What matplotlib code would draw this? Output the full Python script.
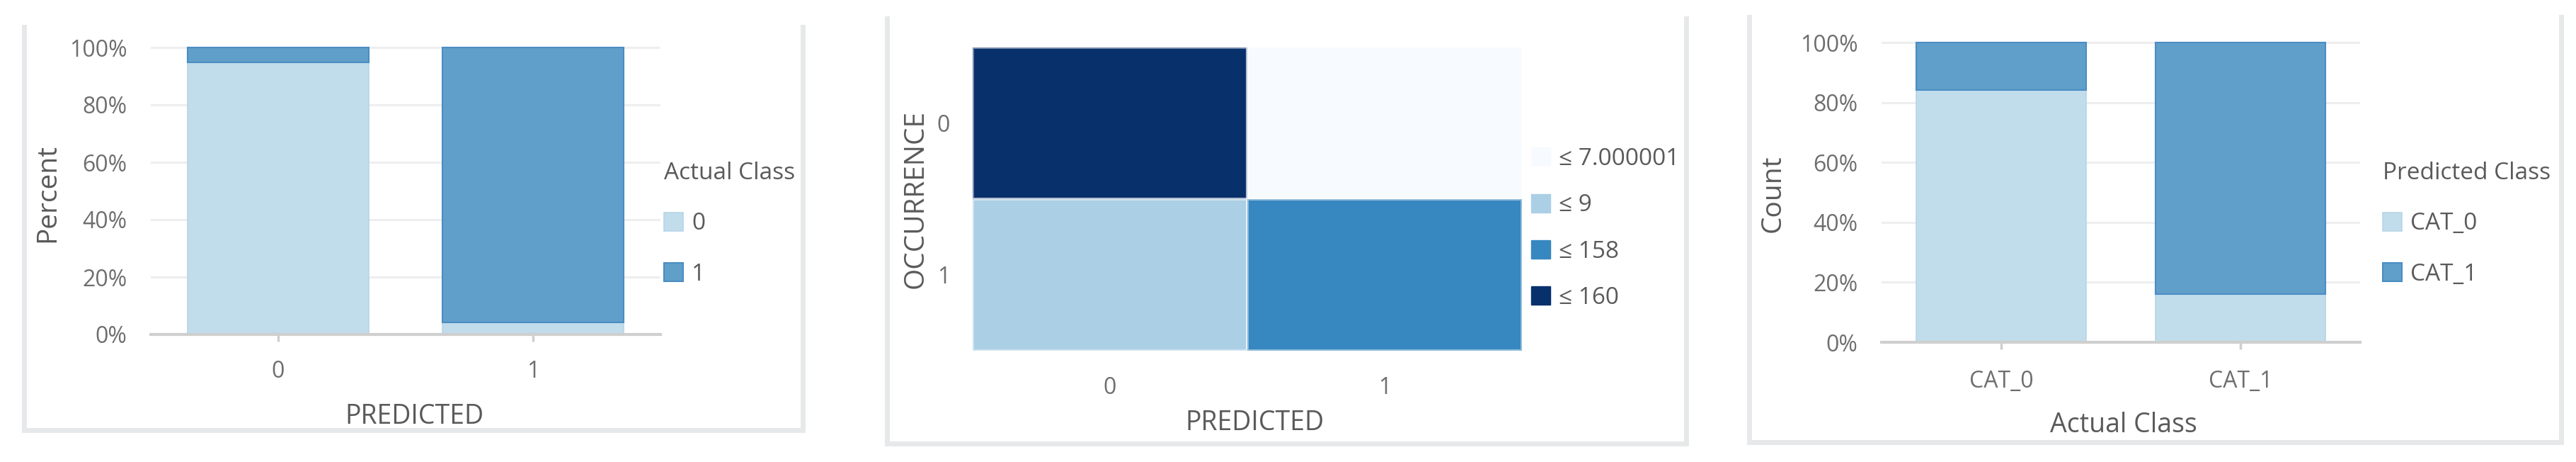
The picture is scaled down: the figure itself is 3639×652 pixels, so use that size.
import numpy as np
import matplotlib
matplotlib.use("Agg")
import matplotlib.pyplot as plt
from matplotlib.colors import ListedColormap
from matplotlib.patches import Patch
from matplotlib.lines import Line2D

# ---------------- data ----------------
# Panel 1: percent of actual class within each predicted class
p1_categories = ["0", "1"]
p1_actual0 = [0.948, 0.042]
p1_actual1 = [0.052, 0.958]
p1_legend = ["0", "1"]

# Panel 2: confusion matrix (rows = occurrence, cols = predicted)
p2_rows = ["0", "1"]
p2_cols = ["0", "1"]
p2_counts = [[160, 7], [9, 158]]
p2_thresholds = [7.000001, 9, 158, 160]
p2_labels = ["≤ 7.000001", "≤ 9", "≤ 158", "≤ 160"]

# Panel 3: percent of predicted class within each actual class
p3_categories = ["CAT_0", "CAT_1"]
p3_pred0 = [0.841, 0.160]
p3_pred1 = [0.159, 0.840]
p3_legend = ["CAT_0", "CAT_1"]

yticks = [0, 0.2, 0.4, 0.6, 0.8, 1.0]
yticklabels = ["0%", "20%", "40%", "60%", "80%", "100%"]

# ---------------- style ----------------
W, H, DPI = 3639, 652, 100
plt.rcParams['font.family'] = ['Open Sans', 'DejaVu Sans']
LIGHT = '#c1dcea'
DARK = '#609fca'
LIGHT_EDGE = '#b7d5e7'
DARK_EDGE = '#4a8dc3'
HEAT = ['#f7fbff', '#abcfe5', '#3787c0', '#08306b']
TICK_C = '#6e6e6e'
LABEL_C = '#5a5a5a'
GRID_C = '#eeeeee'
AXIS_C = '#cfcfcf'
BORDER_C = '#e7e8ea'
FS_TICK = 23
FS_LEG = 24
FS_XLABEL = 27
FS_YLABEL = 28

fig = plt.figure(figsize=(W / DPI, H / DPI), dpi=DPI)


def px_axes(x0, y_top, x1, y_bot):
    return fig.add_axes([x0 / W, 1 - y_bot / H, (x1 - x0) / W, (y_bot - y_top) / H])


def border(x0, y_top, x1, y_bot):
    lw = 7 * 72 / DPI
    for xs, ys in [([x0, x0], [y_top, y_bot]), ([x1, x1], [y_top, y_bot]), ([x0, x1], [y_bot, y_bot])]:
        fig.add_artist(Line2D([x / W for x in xs], [1 - y / H for y in ys], color=BORDER_C,
                              lw=lw, solid_capstyle='projecting'))


def fig_ylabel(ax, text, xc, yc):
    ax.set_ylabel(text, fontsize=FS_YLABEL, color=LABEL_C, va='center', ha='center')
    inv = ax.transAxes.inverted()
    x, y = inv.transform((xc, H - yc))
    ax.yaxis.set_label_coords(x, y)


def fig_xlabel(ax, text, xc, yc):
    ax.set_xlabel(text, fontsize=FS_XLABEL, color=LABEL_C, va='center', ha='center')
    inv = ax.transAxes.inverted()
    x, y = inv.transform((xc, H - yc))
    ax.xaxis.set_label_coords(x, y)


def stacked_panel(ax, cats, low, high, legend_labels, legend_title, legend_xy,
                  xlabel, xlabel_xy, ylabel, ylabel_xy, xpad):
    x = np.arange(len(cats))
    ax.bar(x, low, width=0.71, color=LIGHT, edgecolor=LIGHT_EDGE, linewidth=1.2, zorder=3,
           label=legend_labels[0])
    ax.bar(x, high, bottom=low, width=0.71, color=DARK, edgecolor=DARK_EDGE, linewidth=1.5,
           zorder=3, label=legend_labels[1])
    ax.set_xlim(-0.5, 1.5)
    ax.set_ylim(0, 1.03)
    ax.set_yticks(yticks)
    ax.set_yticklabels(yticklabels)
    ax.set_xticks(x)
    ax.set_xticklabels(cats)
    for s in ['top', 'right', 'left']:
        ax.spines[s].set_visible(False)
    ax.spines['bottom'].set_color(AXIS_C)
    ax.spines['bottom'].set_linewidth(3)
    ax.spines['bottom'].set_zorder(4)
    ax.yaxis.grid(True, color=GRID_C, linewidth=2.2, zorder=0)
    ax.set_axisbelow(True)
    ax.tick_params(axis='y', length=0, pad=24, labelsize=FS_TICK, labelcolor=TICK_C)
    ax.tick_params(axis='x', length=7, width=2.5, color=AXIS_C, pad=xpad, labelsize=FS_TICK,
                   labelcolor=TICK_C)
    fig_xlabel(ax, xlabel, *xlabel_xy)
    fig_ylabel(ax, ylabel, *ylabel_xy)
    handles, labels = ax.get_legend_handles_labels()
    lg = fig.legend(handles, labels, title=legend_title, loc='upper left',
                    bbox_to_anchor=(legend_xy[0] / W, 1 - legend_xy[1] / H),
                    frameon=False, fontsize=FS_LEG, title_fontsize=FS_LEG,
                    handlelength=0.82, handleheight=0.82, handletextpad=0.35,
                    labelspacing=1.15, borderpad=0, borderaxespad=0, alignment='left')
    lg.get_title().set_color(LABEL_C)
    for t in lg.get_texts():
        t.set_color(LABEL_C)


# ---------------- panel 1 ----------------
border(34, 38, 1134, 607)
ax1 = px_axes(213, 472 - 405 * 1.03, 933, 472)
stacked_panel(ax1, p1_categories, p1_actual0, p1_actual1, p1_legend, "Actual Class",
              (938, 228), "PREDICTED", (585, 588), "Percent", (67, 272), 19)

# ---------------- panel 2 ----------------
border(1253, 26, 2382, 626)
ax2 = px_axes(1374, 67, 2150, 495)
counts = np.array(p2_counts)
bins = np.digitize(counts, p2_thresholds, right=True)
cmap = ListedColormap(HEAT)
ax2.pcolormesh(np.arange(len(p2_cols) + 1) - 0.5, np.arange(len(p2_rows) + 1) - 0.5, bins,
               cmap=cmap, vmin=-0.5, vmax=len(HEAT) - 0.5,
               edgecolors=(1, 1, 1, 0.45), linewidth=1.5)
ax2.set_xlim(-0.5, len(p2_cols) - 0.5)
ax2.set_ylim(len(p2_rows) - 0.5, -0.5)
ax2.set_xticks(np.arange(len(p2_cols)))
ax2.set_xticklabels(p2_cols)
ax2.set_yticks(np.arange(len(p2_rows)))
ax2.set_yticklabels(p2_rows)
for s in ax2.spines.values():
    s.set_visible(False)
ax2.tick_params(axis='x', length=0, pad=26, labelsize=FS_TICK, labelcolor=TICK_C)
ax2.tick_params(axis='y', length=0, pad=23, labelsize=FS_TICK, labelcolor=TICK_C)
fig_xlabel(ax2, "PREDICTED", 1772, 597)
fig_ylabel(ax2, "OCCURRENCE", 1294, 281)
heat_handles = [Patch(facecolor=c, edgecolor=c) for c in HEAT]
lg2 = fig.legend(heat_handles, p2_labels, loc='upper left',
                 bbox_to_anchor=(2163 / W, 1 - 208 / H), frameon=False, fontsize=FS_LEG,
                 handlelength=0.82, handleheight=0.82, handletextpad=0.35,
                 labelspacing=0.97, borderpad=0, borderaxespad=0)
for t in lg2.get_texts():
    t.set_color(LABEL_C)

# ---------------- panel 3 ----------------
border(2471, 24, 3618, 624)
ax3 = px_axes(2658, 483 - 423 * 1.03, 3334, 483)
stacked_panel(ax3, p3_categories, p3_pred0, p3_pred1, p3_legend, "Predicted Class",
              (3366, 228), "Actual Class", (3000, 600), "Count", (2505, 273), 21)

fig.savefig("out.png", dpi=DPI)
